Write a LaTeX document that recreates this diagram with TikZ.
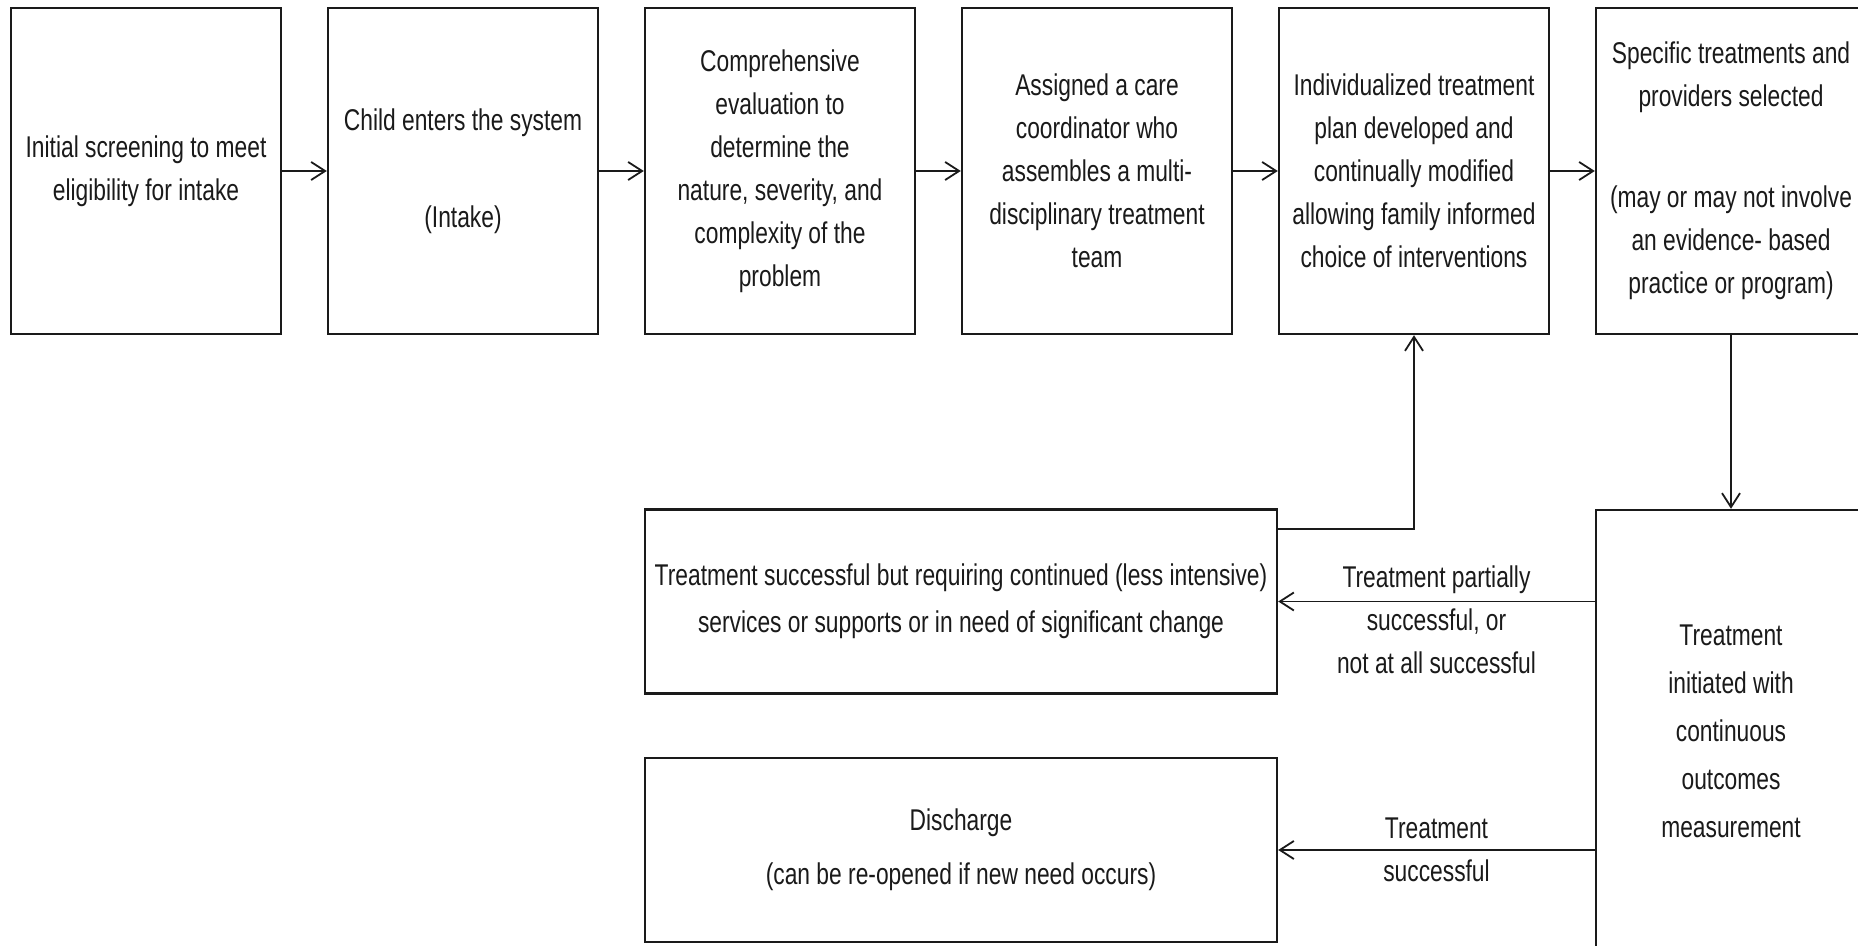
\documentclass[tikz,border=0pt]{standalone}
\usepackage{fontspec}
\setsansfont{Liberation Sans}[FakeStretch=0.76]
\usetikzlibrary{arrows.meta,positioning}
\definecolor{flowInk}{HTML}{1A1A1A}
\tikzset{
  every picture/.style={font=\sffamily\fontsize{15}{21.5}\selectfont, text=flowInk},
  flow box/.style={draw=flowInk, line width=1.2pt, fill=white, align=center,
    minimum width=135pt, minimum height=163pt, inner sep=0pt},
  flow wide/.style={flow box, minimum width=316pt, minimum height=92pt},
  flow arrow/.style={-{Straight Barb[length=7pt,width=9pt]},
    draw=flowInk, line width=0.9pt},
  flow label/.style={align=center, inner sep=1pt}
}

\begin{document}
\begin{tikzpicture}[x=0.5pt,y=-0.5pt]
  \useasboundingbox (0,0) rectangle (1858,946);
  \clip (0,0) rectangle (1858,946);
  % top row
  \node[flow box] (screen) at (146,171) {Initial screening to meet\\eligibility for intake};
  \node[flow box] (intake) at (463,171) {Child enters the system\\[27pt](Intake)};
  \node[flow box] (evalbox) at (780,171) {Comprehensive\\evaluation to\\determine the\\nature, severity, and\\complexity of the\\problem};
  \node[flow box] (coord) at (1097,171) {Assigned a care\\coordinator who\\assembles a multi-\\disciplinary treatment\\team};
  \node[flow box] (plan) at (1414,171) {Individualized treatment\\plan developed and\\continually modified\\allowing family informed\\choice of interventions};
  \node[flow box] (select) at (1731,171) {Specific treatments and\\providers selected\\[29pt](may or may not involve\\an evidence- based\\practice or program)};
  % lower part
  \node[flow box, minimum height=221pt, font=\sffamily\fontsize{15}{24}\selectfont] (measure) at (1731,731)
    {Treatment\\initiated with\\continuous\\outcomes\\measurement};
  \node[flow wide, font=\sffamily\fontsize{15}{23.5}\selectfont] (cont) at (961,601.5)
    {Treatment successful but requiring continued (less intensive)\\services or supports or in need of significant change};
  \node[flow wide, font=\sffamily\fontsize{15}{27}\selectfont] (disch) at (961,850)
    {Discharge\\(can be re-opened if new need occurs)};

  \foreach \a/\b in {screen/intake,intake/evalbox,evalbox/coord,coord/plan,plan/select}
    \draw[flow arrow] (\a.east) -- (\b.west);
  \draw[flow arrow] (select.south) -- (measure.north);
  \draw[flow arrow] (measure.west |- cont.east) -- (cont.east)
    node[midway, flow label, yshift=-9pt] (partlbl) {Treatment partially\\successful, or\\not at all successful};
  \draw[flow arrow] (measure.west |- disch.east) -- (disch.east)
    node[midway, flow label] (donelbl) {Treatment\\successful};
  \draw[flow arrow] ([yshift=-10.5pt]cont.north east) -| (plan.south);
\end{tikzpicture}
\end{document}
